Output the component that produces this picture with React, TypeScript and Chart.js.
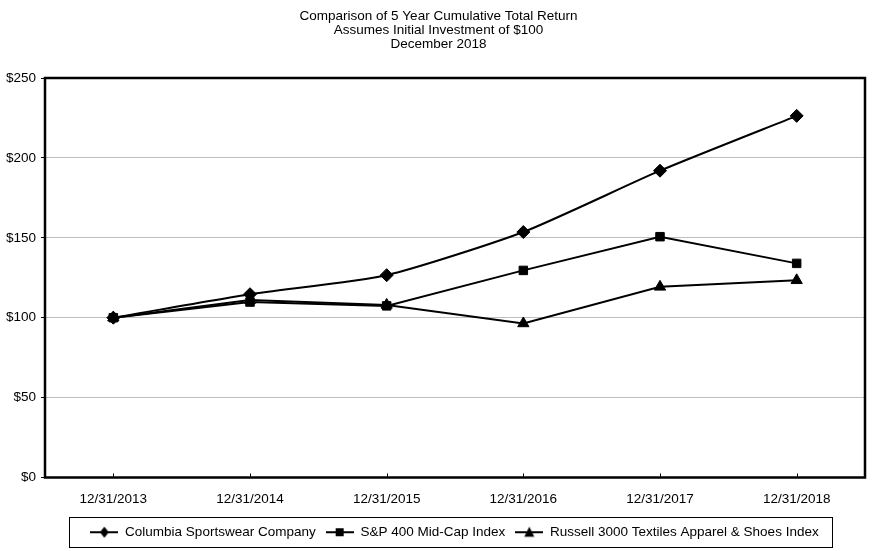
import { useEffect, useRef } from "react";
import { Chart, registerables } from "chart.js";

Chart.register(...registerables);

const titleLines = [
  "Comparison of 5 Year Cumulative Total Return",
  "Assumes Initial Investment of $100",
  "December 2018",
];
const categories = ["12/31/2013", "12/31/2014", "12/31/2015", "12/31/2016", "12/31/2017", "12/31/2018"];
const seriesNames = [
  "Columbia Sportswear Company",
  "S&P 400 Mid-Cap Index",
  "Russell 3000 Textiles Apparel & Shoes Index",
];
const columbia = [100, 114.7, 126.6, 153.6, 192.0, 226.3];
const spMidCap = [100, 109.8, 107.4, 129.6, 150.7, 134.0];
const russell = [100, 111.0, 108.0, 96.4, 119.3, 123.4];
const yMin = 0;
const yMax = 250;
const yStep = 50;

const FONT = "'Liberation Sans', Arial, Helvetica, sans-serif";
const FS = 13.5;

function makeLegendIcon(style: string): HTMLCanvasElement {
  const c = document.createElement("canvas");
  c.width = 28;
  c.height = 14;
  const ctx = c.getContext("2d")!;
  ctx.strokeStyle = "#000";
  ctx.lineWidth = 2;
  ctx.beginPath();
  ctx.moveTo(0, 7);
  ctx.lineTo(28, 7);
  ctx.stroke();
  ctx.fillStyle = "#000";
  ctx.beginPath();
  if (style === "rectRot") {
    ctx.moveTo(14, 1.5);
    ctx.lineTo(18.5, 7);
    ctx.lineTo(14, 12.5);
    ctx.lineTo(9.5, 7);
    ctx.closePath();
  } else if (style === "rect") {
    ctx.rect(10, 3, 8, 8);
  } else {
    ctx.moveTo(14, 1.5);
    ctx.lineTo(19, 11.5);
    ctx.lineTo(9, 11.5);
    ctx.closePath();
  }
  ctx.fill();
  return c;
}

const framePlugin = {
  id: "frame",
  beforeDatasetsDraw(chart: any) {
    const { ctx, chartArea } = chart;
    const { left, top, right, bottom } = chartArea;
    ctx.save();
    ctx.strokeStyle = "#000";
    ctx.lineWidth = 2.5;
    ctx.strokeRect(left, top, right - left, bottom - top);
    const xs = chart.scales.x;
    ctx.lineWidth = 1;
    xs.ticks.forEach((_t: any, i: number) => {
      const x = Math.round(xs.getPixelForTick(i)) + 0.5;
      ctx.beginPath();
      ctx.moveTo(x, bottom);
      ctx.lineTo(x, bottom - 4);
      ctx.stroke();
    });
    ctx.restore();
  },
};

const shiftPlugin = {
  id: "shiftBlocks",
  afterLayout(chart: any) {
    const lg = chart.legend;
    if (lg) {
      lg.left += 22;
      lg.right += 22;
    }
    const tb = chart.titleBlock;
    if (tb) {
      tb.left += 6;
      tb.right += 6;
    }
  },
  afterDraw(chart: any) {
    const lg = chart.legend;
    if (!lg || !lg.lineWidths) return;
    const pad = lg.options.labels.padding;
    const lw = lg.lineWidths[0];
    const start = (lg.left + pad + lg.right - lw) / 2;
    const end = start + lw - pad;
    const cy = lg.top + pad + FS / 2;
    const ctx = chart.ctx;
    ctx.save();
    ctx.strokeStyle = "#000";
    ctx.lineWidth = 1;
    ctx.strokeRect(Math.round(start - 21) + 0.5, Math.round(cy - 15) + 0.5, Math.round(end - start + 35), 30);
    ctx.restore();
  },
};

export default function App() {
  const ref = useRef<HTMLCanvasElement | null>(null);

  useEffect(() => {
    if (!ref.current) return;
    const styles = ["rectRot", "rect", "triangle"];
    const icons = styles.map(makeLegendIcon);
    const mk = (label: string, data: number[], pointStyle: string, radius: number, tension: number) => ({
      label,
      data,
      borderColor: "#000",
      backgroundColor: "#000",
      borderWidth: 2,
      pointStyle,
      pointRadius: radius,
      pointBackgroundColor: "#000",
      pointBorderColor: "#000",
      pointBorderWidth: 1,
      tension,
      fill: false,
    });
    const chart = new Chart(ref.current, {
      type: "line",
      data: {
        labels: categories,
        datasets: [
          mk(seriesNames[0], columbia, "rectRot", 6.5, 0.2),
          mk(seriesNames[1], spMidCap, "rect", 6, 0),
          mk(seriesNames[2], russell, "triangle", 6.5, 0),
        ],
      },
      options: {
        animation: false,
        responsive: false,
        devicePixelRatio: 1,
        events: [],
        layout: { padding: { left: 0, right: 12, top: 0, bottom: 2 } },
        plugins: {
          title: {
            display: true,
            text: titleLines,
            color: "#000",
            font: { family: FONT, size: FS, weight: "normal", lineHeight: 14 / FS },
            padding: { top: 9, bottom: 27 },
          },
          legend: {
            position: "bottom",
            labels: {
              usePointStyle: true,
              pointStyleWidth: 28,
              color: "#000",
              font: { family: FONT, size: FS },
              padding: 10,
              generateLabels: (c: any) =>
                c.data.datasets.map((ds: any, i: number) => ({
                  text: ds.label,
                  fillStyle: "#000",
                  strokeStyle: "#000",
                  lineWidth: 0,
                  hidden: false,
                  datasetIndex: i,
                  pointStyle: icons[i],
                  fontColor: "#000",
                })),
            },
          },
          tooltip: { enabled: false },
        },
        scales: {
          x: {
            offset: true,
            grid: { display: false },
            border: { display: false },
            ticks: { color: "#000", font: { family: FONT, size: FS }, padding: 6, maxRotation: 0, autoSkip: false },
            afterFit: (s: any) => {
              s.height = 38;
            },
          },
          y: {
            min: yMin,
            max: yMax,
            ticks: {
              stepSize: yStep,
              color: "#000",
              font: { family: FONT, size: FS },
              padding: 5,
              callback: (v: any) => "$" + v,
            },
            grid: { color: "#bfbfbf", tickColor: "#000", tickLength: 4, drawTicks: true },
            border: { display: false },
            afterFit: (s: any) => {
              s.width = 45;
            },
          },
        },
      } as any,
      plugins: [framePlugin, shiftPlugin],
    });
    return () => chart.destroy();
  }, []);

  return (
    <div style={{ position: "absolute", left: 0, top: 0, width: 877, height: 551, background: "#fff" }}>
      <canvas ref={ref} width={877} height={551} style={{ display: "block", width: 877, height: 551 }} />
    </div>
  );
}
